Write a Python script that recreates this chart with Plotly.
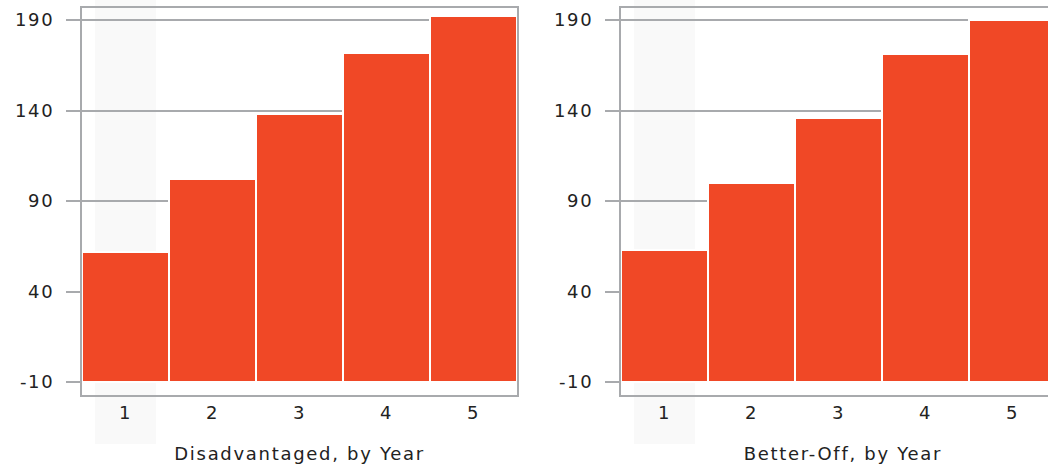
import plotly.graph_objects as go

# ---- data ----
years = [1, 2, 3, 4, 5]
disadvantaged = [62, 102, 138, 172, 192]
better_off = [63, 100, 136, 171, 190]
bar_base = -10
y_ticks = [-10, 40, 90, 140, 190]
panel_titles = ["Disadvantaged, by Year", "Better-Off, by Year"]
highlight_year = 1

# ---- style ----
BAR = "#F04826"
GRID = "#A8AAAD"
BAND = "#F9F9F9"
TXT = "#222222"
FONT = "DejaVu Sans"

W, H = 1048, 466
ML, MR, MT, MB = 82, 0, 8, 71
plot_w = W - ML - MR
plot_h = H - MT - MB

fig = go.Figure()

for i, vals in enumerate([disadvantaged, better_off]):
    xa = "x" if i == 0 else "x2"
    ya = "y" if i == 0 else "y2"
    fig.add_trace(go.Bar(
        x=years,
        y=[v - bar_base for v in vals],
        base=bar_base,
        marker=dict(color=BAR, line=dict(color="white", width=2)),
        xaxis=xa, yaxis=ya, showlegend=False,
    ))

left_dom = [0, 435 / plot_w]
right_dom = [(621 - ML) / plot_w, 1]
right_end = 0.5 + (W - 621) / 87.0

common_x = dict(
    tickvals=years, ticktext=[str(v) for v in years],
    ticks="", showgrid=False, zeroline=False,
    showline=True, linecolor=GRID, linewidth=2, mirror=True,
    tickfont=dict(family=FONT, size=18, color=TXT),
)
common_y = dict(
    range=[-17.18, 196.63], tickvals=y_ticks,
    ticktext=[str(v) for v in y_ticks],
    ticks="outside", ticklen=14, tickcolor=GRID, tickwidth=2,
    showgrid=True, gridcolor=GRID, gridwidth=2, zeroline=False,
    showline=True, linecolor=GRID, linewidth=2,
    tickfont=dict(family=FONT, size=18, color=TXT),
    ticklabelstandoff=8,
)

fig.update_layout(
    width=W, height=H,
    margin=dict(l=ML, r=MR, t=MT, b=MB, pad=0),
    paper_bgcolor="white", plot_bgcolor="rgba(0,0,0,0)",
    bargap=0,
    xaxis=dict(domain=left_dom, range=[0.5, 5.5], anchor="y", **common_x),
    xaxis2=dict(domain=right_dom, range=[0.5, right_end], anchor="y2", **common_x),
    yaxis=dict(anchor="x", mirror=True, **common_y),
    yaxis2=dict(anchor="x2", mirror=False, **common_y),
)

band_y0 = -(444 - (H - MB)) / plot_h
band_y1 = 1 + MT / plot_h
for xr in ["x", "x2"]:
    fig.add_shape(type="rect", xref=xr, yref="paper",
                  x0=highlight_year - 0.35, x1=highlight_year + 0.35,
                  y0=band_y0, y1=band_y1,
                  fillcolor=BAND, line=dict(width=0), layer="below")

title_y = -(453 - (H - MB)) / plot_h
for xr, t, xc in zip(["x", "x2"], panel_titles, [3, 3.05]):
    fig.add_annotation(text=t, xref=xr, yref="paper", x=xc, y=title_y,
                       showarrow=False, yanchor="middle", xanchor="center",
                       font=dict(family=FONT, size=18, color=TXT))

post = (
    "document.body.style.margin='0';"
    "document.body.style.overflow='hidden';"
    "var s=document.createElement('style');"
    "s.textContent='.main-svg text{letter-spacing:1.7px;}';"
    "document.head.appendChild(s);"
)
fig.write_html("out.html", post_script=post, config={"displayModeBar": False})
